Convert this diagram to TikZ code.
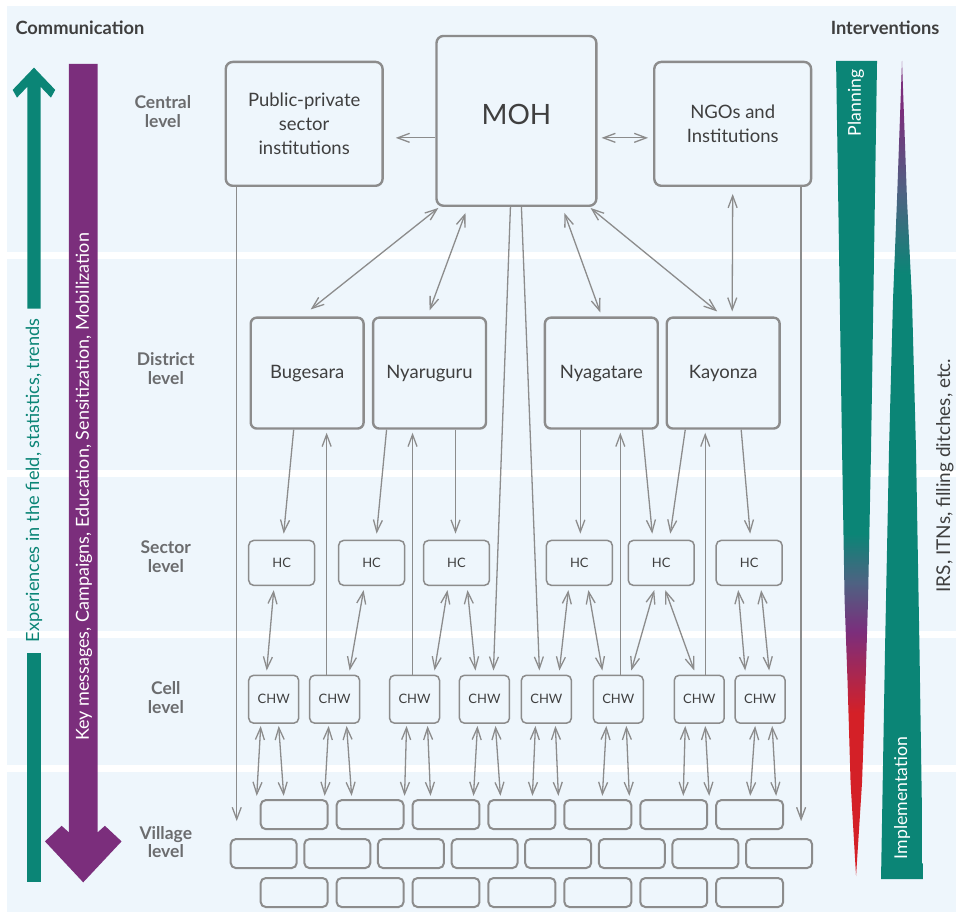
\documentclass[tikz,border=0pt]{standalone}
\usepackage{fontspec}
\setmainfont{Lato}
\usetikzlibrary{arrows.meta}

\definecolor{panel}{HTML}{EEF6FC}
\definecolor{boxgray}{HTML}{8C8C8C}
\definecolor{txtgray}{HTML}{3F3F3F}
\definecolor{lvlgray}{HTML}{6B6C6E}
\definecolor{cteal}{HTML}{0B8576}
\definecolor{cpurple}{HTML}{7B2E7C}
\definecolor{cred}{HTML}{D42027}
\definecolor{cslate}{HTML}{4E6282}

% bottom = 0bp, path box sits between 25bp and 75bp
\pgfdeclareverticalshading{planshade}{100bp}{color(0bp)=(cred); color(35bp)=(cred); color(40bp)=(cpurple); color(43bp)=(cslate); color(46bp)=(cteal); color(100bp)=(cteal)}
\pgfdeclareverticalshading{implshade}{100bp}{color(0bp)=(cteal); color(62bp)=(cteal); color(67bp)=(cslate); color(72bp)=(cpurple); color(100bp)=(cpurple)}

\tikzset{
  barb/.tip={Straight Barb[length=12pt,width=9pt]},
  conn/.style={draw=boxgray, line width=1.3pt, -barb},
  both/.style={draw=boxgray, line width=1.3pt, barb-barb},
  box/.style={draw=boxgray, fill=panel, inner sep=0pt, text=txtgray, align=center},
  bigbox/.style={box, line width=2.4pt, rounded corners=7pt, minimum width=157pt, minimum height=124pt, font=\fontsize{18.5}{24}\selectfont},
  distbox/.style={box, line width=2.4pt, rounded corners=6pt, minimum width=113pt, minimum height=111pt, font=\fontsize{18.5}{22}\selectfont},
  hcbox/.style={box, line width=1.5pt, rounded corners=5pt, minimum width=66pt, minimum height=45pt, font=\fontsize{13}{15}\selectfont},
  chwbox/.style={box, line width=1.5pt, rounded corners=5pt, minimum width=50pt, minimum height=48pt, font=\fontsize{13}{15}\selectfont},
  vbox/.style={box, line width=2pt, rounded corners=5pt, minimum width=67pt, minimum height=29pt},
  level/.style={text=lvlgray, align=center, font=\bfseries\fontsize{17.5}{19}\selectfont},
  head/.style={text=txtgray, font=\bfseries\fontsize{18.3}{20}\selectfont}
}

\begin{document}
\begin{tikzpicture}[x=1pt,y=-1pt]
    % background bands
    \fill[white] (0,0) rectangle (957,913);
    \foreach \ya/\yb in {6/252, 259/471, 478/632, 639/766, 773/913}
        \fill[panel] (7,\ya) rectangle (957,\yb);

    % communication arrows
    \fill[cteal] (27.3,309) -- (27.3,86.9) -- (17,97.7) -- (12.7,90) -- (34,67.7)
        -- (55.3,90) -- (51,97.7) -- (40.7,86.9) -- (40.7,309) -- cycle;
    \fill[cteal] (27.3,654) rectangle (40.7,883);
    \fill[cpurple] (69,64) -- (69,833.3) -- (61.7,826.7) -- (45,842.3) -- (83.3,883.3)
        -- (121.7,842.3) -- (105,826.7) -- (97.7,833.3) -- (97.7,64) -- cycle;

    \node[head, anchor=west] (comm) at (12,28) {Communication};
    \node[rotate=90, text=cteal, font=\fontsize{18.2}{20}\selectfont] (exptxt) at (34,481)
        {Experiences in the field, statistics, trends};
    \node[rotate=90, text=white, font=\fontsize{18}{20}\selectfont] (keytxt) at (84,487.5)
        {Key messages, Campaigns, Education, Sensitization, Mobilization};

    % interventions wedges
    \node[head, anchor=east] (interv) at (944,28) {Interventions};
    \shade[shading=planshade] (837,61) -- (843,450) -- (845.5,600) -- (848.5,683) -- (851.5,783)
        -- (857,877) -- (863,783) -- (866.5,683) -- (869,600) -- (872,450) -- (878,61) -- cycle;
    \shade[shading=implshade] (903,61) -- (898,200) -- (894,300) -- (890,450) -- (886,650) -- (882,880)
        -- (924,880) -- (920.5,650) -- (917,450) -- (913,300) -- (908,200) -- cycle;
    \node[rotate=90, text=white, font=\fontsize{17.7}{19}\selectfont] (plan) at (857,103) {Planning};
    \node[rotate=90, text=white, font=\fontsize{17.7}{19}\selectfont] (impl) at (903,799) {Implementation};
    \node[rotate=90, text=txtgray, font=\fontsize{19}{21}\selectfont] (irs) at (946,476)
        {IRS, ITNs, filling ditches, etc.};

    % level labels
    \node[level] (lcentral) at (163,112) {Central\\level};
    \node[level] (ldistrict) at (166,369) {District\\level};
    \node[level] (lsector) at (166,557) {Sector\\level};
    \node[level] (lcell) at (166,698) {Cell\\level};
    \node[level] (lvillage) at (166,843) {Village\\level};

    % central level
    \node[bigbox] (pps) at (304.5,124) {Public-private\\sector\\institutions};
    \node[bigbox, minimum width=160pt, minimum height=170pt, font=\fontsize{28}{32}\selectfont] (moh)
        at (517,121) {\raisebox{14pt}{MOH}};
    \node[bigbox] (ngo) at (733.5,124) {NGOs and\\Institutions};

    % district level
    \node[distbox] (bug) at (307.5,373.5) {Bugesara};
    \node[distbox] (nyr) at (430,373.5) {Nyaruguru};
    \node[distbox] (nyg) at (602,373.5) {Nyagatare};
    \node[distbox] (kay) at (724,373.5) {Kayonza};

    % sector level
    \foreach \i/\x in {1/282, 2/372, 3/457, 4/580, 5/662, 6/750}
        \node[hcbox] (hc\i) at (\x,563.5) {HC};

    % cell level
    \foreach \i/\x in {1/274, 2/335, 3/415, 4/485, 5/547, 6/619, 7/700, 8/761}
        \node[chwbox] (chw\i) at (\x,700) {CHW};

    % villages
    \foreach \i in {1,...,7} {
        \node[vbox] (va\i) at ({294.5+(\i-1)*76},815.5) {};
        \node[vbox] (vc\i) at ({294.5+(\i-1)*76},893.5) {};
    }
    \foreach \i in {1,...,8}
        \node[vbox, minimum width=66pt] (vb\i) at ({264+(\i-1)*73.7},854.5) {};

    % MOH links
    \draw[conn] ([yshift=-17pt]moh.west) -- ([xshift=12pt,yshift=-14pt]pps.east);
    \draw[both] ([xshift=4pt,yshift=-17pt]moh.east) -- ([xshift=-5pt,yshift=-14pt]ngo.west);
    \draw[both] ([yshift=-7pt]ngo.south) -- ([xshift=9pt,yshift=5pt]kay.north);
    \draw[both] ([xshift=3pt,yshift=-1pt]moh.south west) -- ([xshift=3.5pt,yshift=7pt]bug.north);
    \draw[both] ([xshift=-51pt,yshift=-6pt]moh.south) -- ([yshift=6pt]nyr.north);
    \draw[both] ([xshift=48pt,yshift=-6pt]moh.south) -- ([xshift=-1pt,yshift=4pt]nyg.north);
    \draw[both] ([xshift=-7pt,yshift=-1pt]moh.south east) -- ([xshift=-6pt,yshift=5pt]kay.north);
    \draw[conn] ([xshift=-6pt]moh.south) -- ([xshift=9pt,yshift=4pt]chw4.north);
    \draw[conn] ([xshift=5pt]moh.south) -- ([xshift=-7pt,yshift=4pt]chw5.north);

    % partners straight down to villages
    \coordinate (ppsend) at (237,822);
    \coordinate (ngoend) at (802,822);
    \draw[conn] (pps.south -| ppsend) -- (ppsend);
    \draw[conn] (ngo.south -| ngoend) -- (ngoend);

    % districts and health centres
    \draw[conn] ([xshift=-13.5pt]bug.south) -- ([xshift=2pt,yshift=6pt]hc1.north);
    \draw[conn] ([xshift=-8pt]chw2.north) -- ([xshift=19.5pt,yshift=-3pt]bug.south);
    \draw[conn] ([xshift=-43pt]nyr.south) -- ([xshift=5pt,yshift=6pt]hc2.north);
    \draw[conn] ([xshift=-2pt]chw3.north) -- ([xshift=-17pt,yshift=-3pt]nyr.south);
    \draw[conn] ([xshift=26pt]nyr.south) -- ([xshift=-1pt,yshift=6pt]hc3.north);
    \draw[conn] ([xshift=-21pt]nyg.south) -- ([xshift=1pt,yshift=6pt]hc4.north);
    \draw[conn] ([xshift=2pt]chw6.north) -- ([xshift=19pt,yshift=-3pt]nyg.south);
    \draw[conn] ([xshift=41pt]nyg.south) -- ([xshift=-9pt,yshift=6pt]hc5.north);
    \draw[conn] ([xshift=-38pt]kay.south) -- ([xshift=9pt,yshift=6pt]hc5.north);
    \draw[conn] ([xshift=6pt]chw7.north) -- ([xshift=-18pt,yshift=-3pt]kay.south);
    \draw[conn] ([xshift=18pt]kay.south) -- ([xshift=1pt,yshift=6pt]hc6.north);

    % health centres and CHWs
    \draw[both] ([xshift=-8pt,yshift=-4pt]hc1.south) -- ([xshift=-7pt,yshift=4pt]chw1.north);
    \draw[both] ([xshift=-8pt,yshift=-4pt]hc2.south) -- ([xshift=15pt,yshift=4pt]chw2.north);
    \draw[both] ([xshift=-9pt,yshift=-4pt]hc3.south) -- ([xshift=20pt,yshift=4pt]chw3.north);
    \draw[both] ([xshift=11pt,yshift=-4pt]hc3.south) -- ([xshift=-9pt,yshift=4pt]chw4.north);
    \draw[both] ([xshift=-11pt,yshift=-4pt]hc4.south) -- ([xshift=13pt,yshift=4pt]chw5.north);
    \draw[both] ([xshift=9pt,yshift=-4pt]hc4.south) -- ([xshift=-16pt,yshift=4pt]chw6.north);
    \draw[both] ([xshift=-7pt,yshift=-4pt]hc5.south) -- ([xshift=13pt,yshift=4pt]chw6.north);
    \draw[both] ([xshift=4pt,yshift=-4pt]hc5.south) -- ([xshift=-5pt,yshift=4pt]chw7.north);
    \draw[both] ([xshift=-11pt,yshift=-4pt]hc6.south) -- ([xshift=-15pt,yshift=4pt]chw8.north);
    \draw[both] ([xshift=12pt,yshift=-4pt]hc6.south) -- ([xshift=9pt,yshift=4pt]chw8.north);

    % CHWs and villages
    \foreach \c/\dx/\dd in {chw1/-13/-4, chw1/5/5, chw2/-6/-4, chw2/12/5, chw3/-8/-2, chw3/13/3,
                            chw4/-7/-4, chw4/11/5, chw5/-11/-3, chw5/9/3, chw6/-12/-4, chw6/8/3,
                            chw7/-14/-2, chw7/6/4, chw8/-5/-5, chw8/12/4}
        \draw[both] ([xshift=\dx pt,yshift=-2pt]\c.south) -- ++(\dd,70);

\end{tikzpicture}
\end{document}
